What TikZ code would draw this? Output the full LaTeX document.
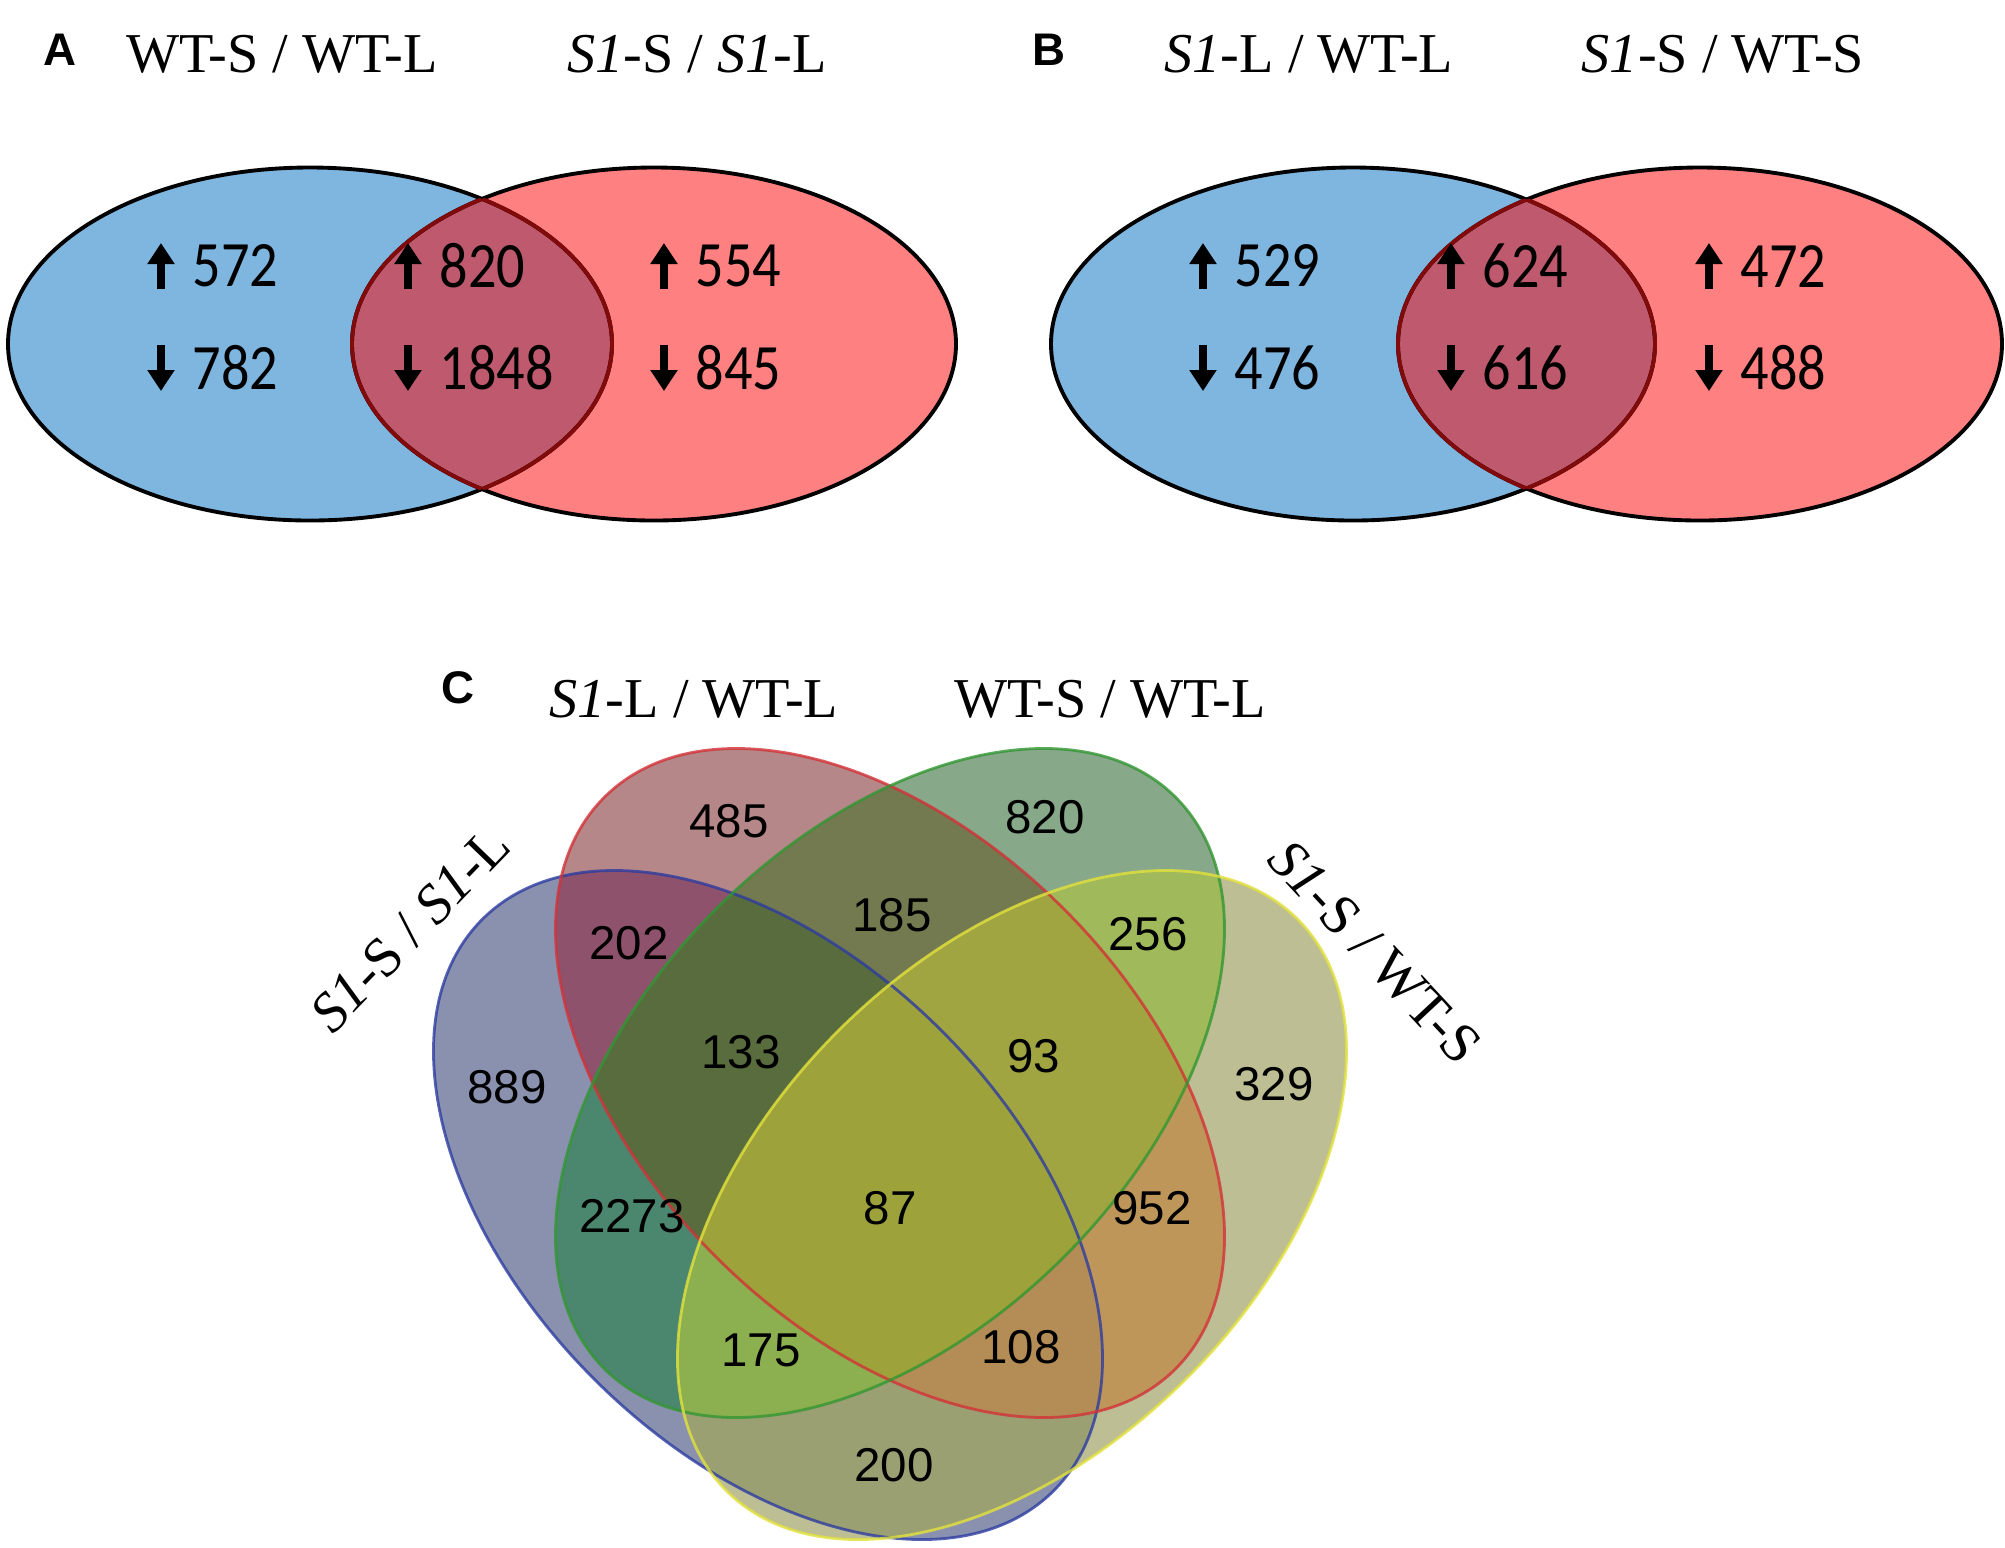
\documentclass[tikz,border=0pt]{standalone}
\usepackage{fontspec}
\setmainfont{Liberation Serif}
\setsansfont{Liberation Sans}
\newfontfamily\calfont{Carlito}
\usetikzlibrary{arrows.meta}
\definecolor{setblue}{RGB}{127,182,224}
\definecolor{setred}{RGB}{255,128,128}
\definecolor{setboth}{RGB}{191,90,110}
\definecolor{innerline}{RGB}{130,10,10}
% four-set regions
\definecolor{rB}{RGB}{137,145,175}
\definecolor{rR}{RGB}{182,135,137}
\definecolor{rG}{RGB}{135,168,137}
\definecolor{rY}{RGB}{190,190,148}
\definecolor{rBR}{RGB}{142,82,108}
\definecolor{rBG}{RGB}{75,135,110}
\definecolor{rBY}{RGB}{155,160,115}
\definecolor{rRG}{RGB}{115,122,80}
\definecolor{rRY}{RGB}{190,150,90}
\definecolor{rGY}{RGB}{160,185,90}
\definecolor{rBRG}{RGB}{88,108,62}
\definecolor{rBRY}{RGB}{180,140,85}
\definecolor{rBGY}{RGB}{140,175,80}
\definecolor{rRGY}{RGB}{160,165,65}
\definecolor{rBRGY}{RGB}{158,162,58}
\definecolor{lineB}{RGB}{45,60,160}
\definecolor{lineR}{RGB}{210,50,55}
\definecolor{lineG}{RGB}{50,150,50}
\definecolor{lineY}{RGB}{225,225,60}
\tikzset{
    x=0.01cm, y=-0.01cm,
    title/.style={font=\fontsize{16}{19}\selectfont, inner sep=0pt},
    panel/.style={font=\sffamily\bfseries\fontsize{13}{15}\selectfont, inner sep=0pt},
    cnt/.style={font=\calfont\fontsize{16}{19}\selectfont, inner sep=0pt, anchor=west},
    vnum/.style={font=\sffamily\fontsize{13.5}{16}\selectfont, inner sep=0pt},
    arr/.style={-{Triangle[width=0.26cm,length=0.21cm]}, line width=0.085cm},
    outer/.style={draw=black, line width=1.1pt},
    inner/.style={draw=innerline, line width=1.1pt},
    vline/.style={line width=0.8pt, draw opacity=0.8}
}
\newcommand\updown[4]{%
    \node[cnt] (#1u) at (#2,266) {\scalebox{1}[1.15]{#3}};
    \node[cnt] (#1d) at (#2,368) {\scalebox{1}[1.15]{#4}};
    \draw[arr] ([xshift=-0.31cm,yshift=-0.23cm]#1u.west) -- ([xshift=-0.31cm,yshift=0.23cm]#1u.west);
    \draw[arr] ([xshift=-0.31cm,yshift=0.23cm]#1d.west) -- ([xshift=-0.31cm,yshift=-0.23cm]#1d.west);}
\newcommand\blob{(0,0) ellipse [x radius=404, y radius=246]}
\newcommand\clipset[2]{\clip[shift={(#2)},rotate=#1] \blob;}
\def\clipB{\clipset{-45}{768,1205}}
\def\clipR{\clipset{-45}{890,1083}}
\def\clipG{\clipset{45}{890,1083}}
\def\clipY{\clipset{45}{1012,1205}}

\begin{document}
\begin{tikzpicture}
    \useasboundingbox (0,0) rectangle (2005,1547);

    % panels A and B
    \foreach \bx/\rx in {310/654, 1353/1700}{
        \fill[setblue] (\bx,344) ellipse [x radius=302, y radius=176.5];
        \fill[setred] (\rx,344) ellipse [x radius=302, y radius=176.5];
        \begin{scope}
            \clip (\bx,344) ellipse [x radius=302, y radius=176.5];
            \fill[setboth] (\rx,344) ellipse [x radius=302, y radius=176.5];
        \end{scope}
        \draw[outer] (\bx,344) ellipse [x radius=302, y radius=176.5];
        \draw[outer] (\rx,344) ellipse [x radius=302, y radius=176.5];
        \begin{scope}
            \clip (\bx,344) ellipse [x radius=302, y radius=176.5];
            \draw[inner] (\rx,344) ellipse [x radius=302, y radius=176.5];
        \end{scope}
        \begin{scope}
            \clip (\rx,344) ellipse [x radius=302, y radius=176.5];
            \draw[inner] (\bx,344) ellipse [x radius=302, y radius=176.5];
        \end{scope}
    }

    \node[panel] (A) at (60,50) {A};
    \node[title] (tA1) at (282,54) {WT-S / WT-L};
    \node[title] (tA2) at (697,54) {\textit{S1}-S / \textit{S1}-L};
    \updown{a1}{192}{572}{782}
    \updown{a2}{439}{820}{1848}
    \updown{a3}{695}{554}{845}

    \node[panel] (B) at (1049,50) {B};
    \node[title] (tB1) at (1309,54) {\textit{S1}-L / WT-L};
    \node[title] (tB2) at (1723,54) {\textit{S1}-S / WT-S};
    \updown{b1}{1234}{529}{476}
    \updown{b2}{1482}{624}{616}
    \updown{b3}{1740}{472}{488}

    % panel C, one fill per region
    \foreach \col/\sets in {rB/\clipB, rR/\clipR, rG/\clipG, rY/\clipY,
        rBR/\clipB\clipR, rBG/\clipB\clipG, rBY/\clipB\clipY,
        rRG/\clipR\clipG, rRY/\clipR\clipY, rGY/\clipG\clipY,
        rBRG/\clipB\clipR\clipG, rBRY/\clipB\clipR\clipY,
        rBGY/\clipB\clipG\clipY, rRGY/\clipR\clipG\clipY,
        rBRGY/\clipB\clipR\clipG\clipY}{
        \begin{scope}
            \sets
            \fill[\col] (0,600) rectangle (2005,1547);
        \end{scope}
    }
    \draw[vline, lineB, shift={(768,1205)}, rotate=-45] \blob;
    \draw[vline, lineR, shift={(890,1083)}, rotate=-45] \blob;
    \draw[vline, lineG, shift={(890,1083)}, rotate=45] \blob;
    \draw[vline, lineY, shift={(1012,1205)}, rotate=45] \blob;

    \node[panel] (C) at (458,688) {C};
    \node[title] (tC1) at (694,699) {\textit{S1}-L / WT-L};
    \node[title] (tC2) at (1110,699) {WT-S / WT-L};
    \node[title, rotate=46] (tC3) at (410,929) {\textit{S1}-S / \textit{S1}-L};
    \node[title, rotate=-47] (tC4) at (1375,952) {\textit{S1}-S / WT-S};

    \node[vnum] (n485) at (729,821) {485};
    \node[vnum] (n820) at (1045,817) {820};
    \node[vnum] (n202) at (629,943) {202};
    \node[vnum] (n185) at (892,915) {185};
    \node[vnum] (n256) at (1148,934) {256};
    \node[vnum] (n889) at (507,1087) {889};
    \node[vnum] (n133) at (741,1052) {133};
    \node[vnum] (n93) at (1034,1056) {93};
    \node[vnum] (n329) at (1274,1084) {329};
    \node[vnum] (n2273) at (632,1216) {2273};
    \node[vnum] (n87) at (890,1208) {87};
    \node[vnum] (n952) at (1152,1208) {952};
    \node[vnum] (n175) at (761,1350) {175};
    \node[vnum] (n108) at (1021,1347) {108};
    \node[vnum] (n200) at (894,1465) {200};
\end{tikzpicture}
\end{document}
